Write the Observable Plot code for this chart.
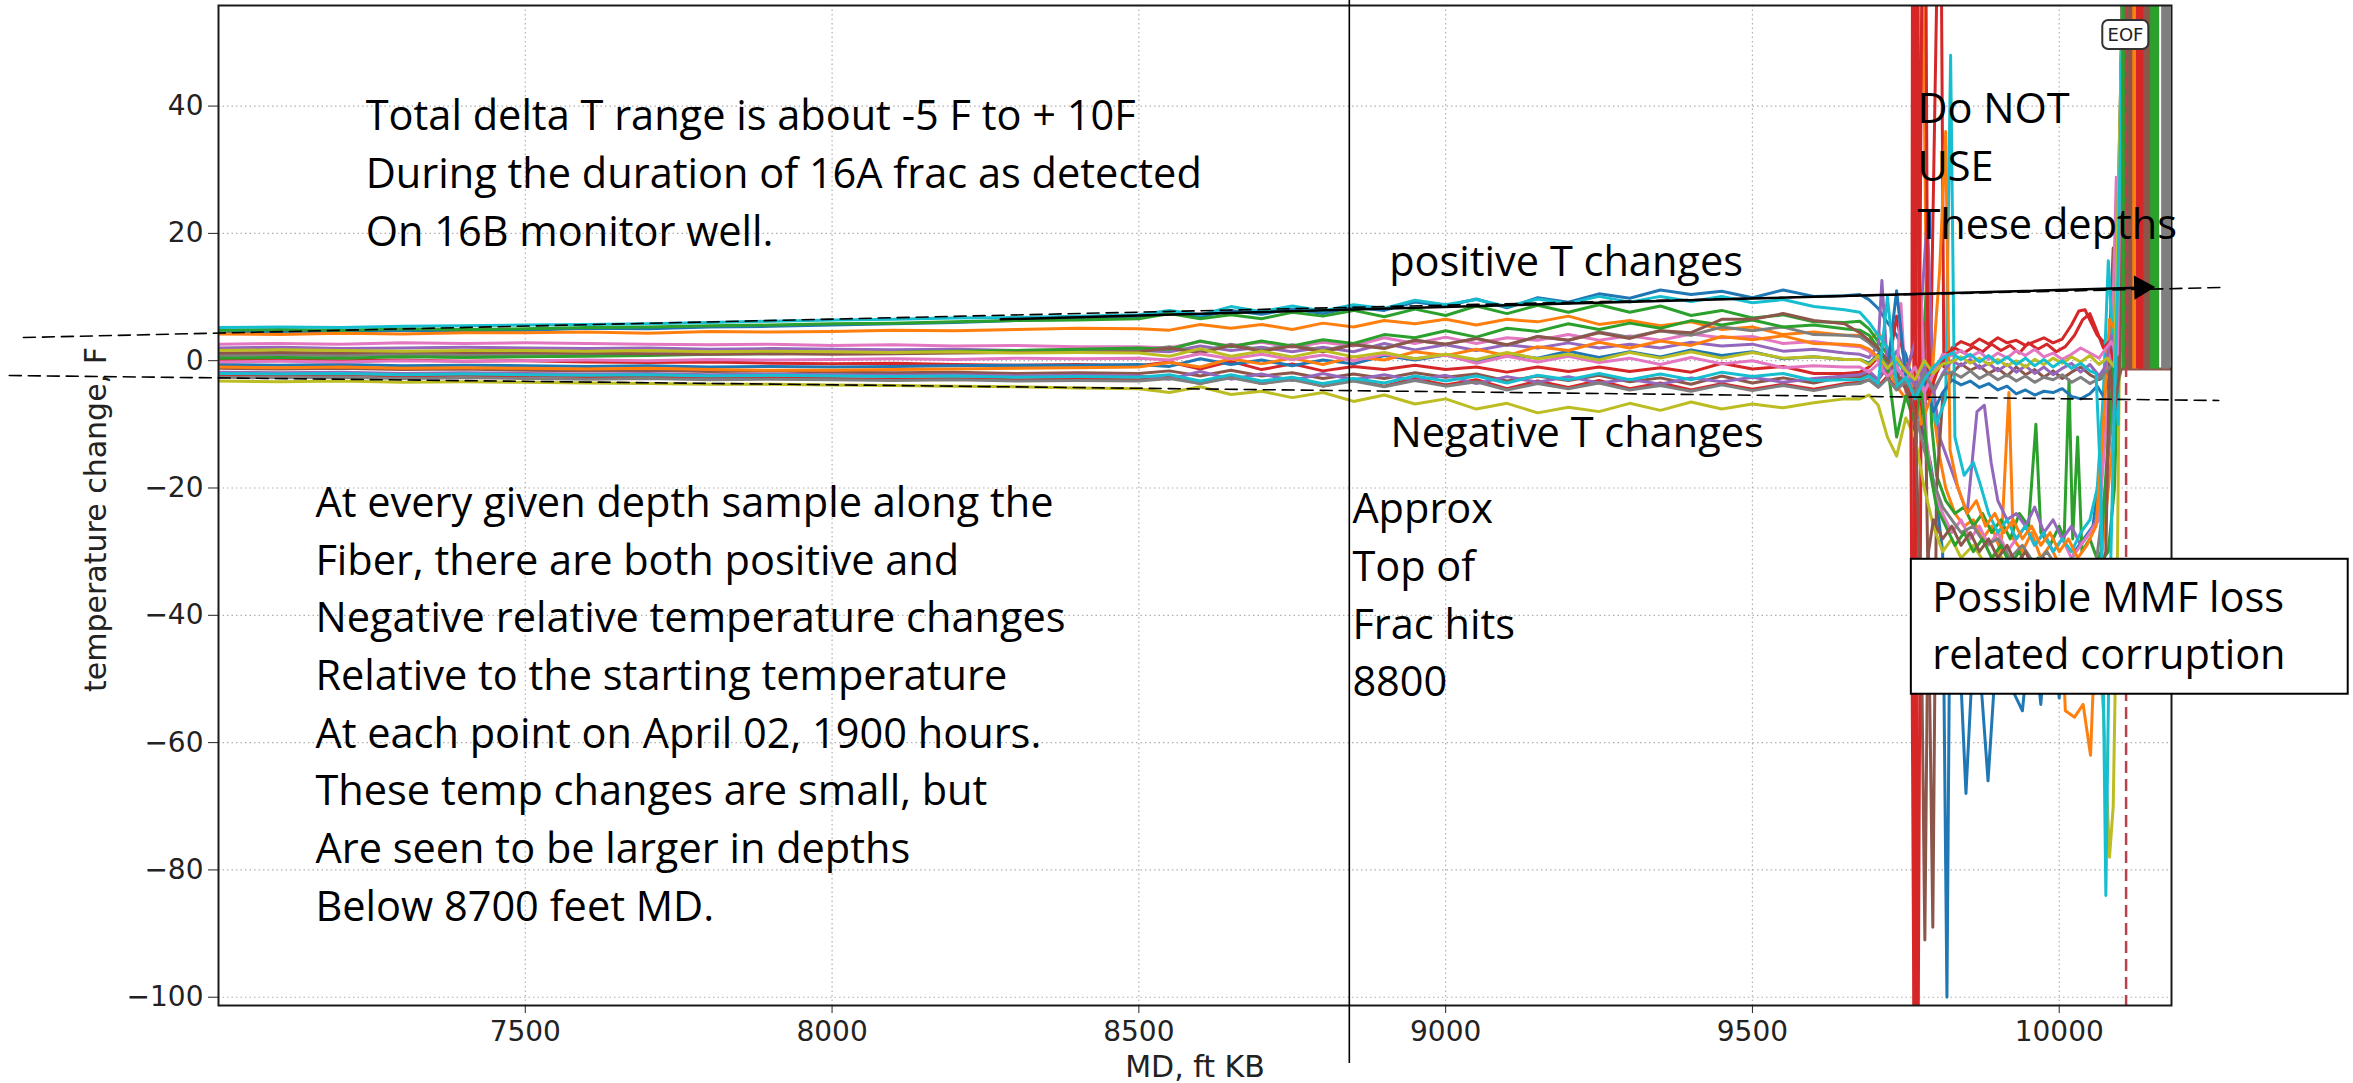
<!DOCTYPE html>
<html><head><meta charset="utf-8">
<script src="https://cdn.jsdelivr.net/npm/d3@7"></script>
<script src="https://cdn.jsdelivr.net/npm/@observablehq/plot@0.6"></script>
<style>
html,body{margin:0;padding:0;background:#fff;}
#chart{width:2353px;height:1083px;overflow:hidden;}
</style></head><body><div id="chart"></div>
<script>
// ---------- data ----------
const xTicks = [7500, 8000, 8500, 9000, 9500, 10000];
const yTicks = [-100, -80, -60, -40, -20, 0, 20, 40];

// measured depth grid (ft KB) for the smooth part of every trace
const md = [7000,7100,7200,7300,7400,7500,7600,7700,7800,7900,8000,8100,8200,8300,8400,8500,
  8550,8600,8650,8700,8750,8800,8850,8900,8950,9000,9050,9100,9150,9200,9250,9300,9350,9400,9450,9500,9550,9600,9650];

const s00 = [4.4,4.6,4.5,4.8,4.7,4.8,5.1,5.0,5.3,5.4,5.6,5.8,6.0,6.3,6.5,6.8, 7.5,6.9,7.9,7.3,8.1,7.4,8.4,7.9,9.2,8.6,9.7,8.3,9.9,9.2,10.5,9.8,11.1,10.4,10.9,9.9,11.1,10.1,10.2];
const s01 = [4.2,4.1,4.3,4.2,4.4,4.4,4.5,4.3,4.6,4.5,4.6,4.8,4.7,4.9,5.1,5.0, 4.8,5.7,5.1,5.7,4.9,5.9,5.3,6.3,5.8,6.5,5.6,6.5,6.1,7.0,5.7,6.3,5.5,6.1,4.9,5.3,4.1,4.5,4.0];
const s02 = [4.8,4.9,4.8,5.0,4.9,5.0,5.2,5.3,5.5,5.6,5.8,5.9,6.1,6.3,6.4,6.6, 7.4,6.6,7.2,6.6,7.6,7.0,7.9,6.9,8.1,7.1,8.6,7.4,8.7,7.6,8.8,7.6,8.6,7.1,7.9,6.7,7.2,6.1,6.0];
const s03 = [0.2,0.1,0.0,0.1,-0.1,0.0,-0.2,-0.3,-0.2,-0.4,-0.5,-0.4,-0.6,-0.7,-0.6,-0.8, -0.2,-1.3,-0.1,-1.4,-0.5,-1.6,-0.9,-1.4,-0.7,-1.4,-1.0,-1.8,-1.0,-1.7,-1.0,-1.7,-1.1,-1.8,-0.4,-1.3,-0.9,-2.0,-2.0];
const s04 = [2.0,2.1,1.9,2.0,2.1,2.0,1.9,2.0,1.8,1.9,1.8,1.7,1.8,1.6,1.7,1.6, 1.4,2.3,1.6,2.1,1.4,2.1,1.4,2.7,1.7,2.5,1.6,2.5,2.0,2.8,2.0,2.6,2.0,2.9,2.3,2.6,1.5,1.8,1.2];
const s05 = [-1.2,-1.3,-1.2,-1.4,-1.3,-1.5,-1.6,-1.5,-1.7,-1.6,-1.8,-1.9,-1.8,-2.0,-1.9,-2.0, -1.6,-2.4,-1.5,-2.4,-1.9,-2.8,-2.1,-2.8,-1.9,-2.6,-2.1,-3.2,-2.4,-3.1,-2.3,-3.3,-2.7,-3.7,-2.4,-3.5,-2.7,-3.5,-2.5];
const s06 = [2.6,2.7,2.6,2.8,2.7,2.8,2.7,2.6,2.5,2.6,2.4,2.5,2.3,2.4,2.2,2.2, 2.0,3.0,2.3,2.9,2.1,2.9,2.3,3.6,2.7,3.7,2.7,3.6,3.2,4.1,3.2,3.9,3.2,4.2,3.6,3.8,2.7,3.0,2.4];
const s07 = [0.8,0.9,0.8,1.0,0.9,1.0,1.1,1.0,1.2,1.1,1.2,1.3,1.4,1.4,1.5,1.6, 2.2,1.4,2.6,1.7,2.5,1.6,2.6,2.0,3.2,2.6,3.5,2.4,3.8,3.2,4.5,3.7,4.7,4.0,5.3,4.7,5.3,4.1,4.0];
const s08 = [-3.2,-3.3,-3.2,-3.4,-3.3,-3.4,-3.5,-3.6,-3.7,-3.7,-3.8,-3.9,-4.0,-4.1,-4.3,-4.4, -5.0,-4.1,-5.3,-4.8,-5.8,-5.0,-6.4,-5.4,-6.8,-6.0,-7.6,-6.7,-8.2,-7.3,-8.0,-6.7,-7.8,-6.5,-7.6,-6.8,-7.4,-6.6,-6.0];
const s09 = [5.2,5.3,5.2,5.4,5.5,5.6,5.7,5.8,6.0,6.2,6.4,6.5,6.7,6.8,7.0,7.2, 7.9,7.2,8.5,7.7,8.6,7.8,8.8,8.2,9.5,8.8,9.6,8.5,9.7,9.0,10.1,9.2,10.1,9.3,10.1,9.1,9.6,8.5,8.0];
const s10 = [-0.6,-0.7,-0.6,-0.8,-0.7,-0.8,-0.9,-0.8,-1.0,-0.9,-1.0,-0.9,-0.8,-0.7,-0.7,-0.6, -0.9,0.3,-0.6,0.1,-0.8,0.1,-0.5,0.8,0.1,0.9,-0.2,1.0,0.4,1.5,0.5,1.4,0.6,1.7,0.8,1.4,0.3,0.6,0.2];
const s11 = [-1.0,-1.1,-1.0,-1.2,-1.1,-1.2,-1.3,-1.2,-1.4,-1.5,-1.5,-1.4,-1.3,-1.2,-1.1,-1.0, -0.3,-1.0,0.3,-0.5,0.4,-0.6,0.6,0.1,1.4,0.8,1.8,0.8,2.2,1.6,2.9,2.0,3.1,2.4,3.8,3.3,3.9,2.7,2.6];
const s12 = [0.4,0.5,0.4,0.6,0.5,0.6,0.7,0.8,1.0,1.1,1.2,1.3,1.5,1.6,1.8,2.0, 1.8,3.1,2.2,3.1,2.3,3.3,2.7,4.1,3.6,4.7,3.7,5.1,4.6,5.8,4.9,5.9,5.1,6.3,5.6,6.4,5.3,5.6,5.0];
const s13 = [-2.2,-2.3,-2.2,-2.4,-2.3,-2.4,-2.5,-2.6,-2.7,-2.7,-2.8,-2.9,-2.8,-3.0,-2.9,-3.0, -2.6,-3.6,-2.4,-3.6,-2.8,-4.0,-3.0,-4.0,-2.8,-3.8,-3.0,-4.4,-3.2,-4.2,-3.1,-4.4,-3.5,-4.6,-3.6,-4.5,-3.7,-4.5,-3.6];
const s14 = [-1.8,-1.9,-1.8,-2.0,-1.9,-2.0,-2.1,-2.0,-2.2,-2.1,-2.2,-2.3,-2.2,-2.4,-2.3,-2.4, -2.9,-1.7,-2.9,-2.1,-3.1,-2.0,-3.0,-2.2,-3.1,-2.3,-3.6,-2.5,-3.4,-2.5,-3.5,-2.9,-3.7,-2.7,-3.3,-2.6,-3.4,-2.8,-2.4];
const s15 = [1.2,1.3,1.2,1.4,1.3,1.3,1.2,1.1,1.0,1.1,1.0,1.1,1.2,1.3,1.3,1.4, 2.0,1.2,2.4,1.5,2.3,1.4,2.5,1.9,3.2,2.6,3.5,2.5,3.8,3.2,4.4,3.5,4.7,4.4,6.5,6.5,7.4,6.3,5.8];
const s16 = [-0.2,-0.1,-0.2,0.0,-0.1,0.0,0.1,0.0,0.2,0.1,0.2,0.3,0.2,0.4,0.3,0.4, 0.1,1.1,0.3,1.0,0.2,0.9,0.0,1.0,0.3,0.9,-0.4,0.7,-0.2,0.7,-0.3,0.4,-0.6,0.5,-0.5,0.0,-1.1,-0.8,-1.0];
const s17 = [-2.6,-2.7,-2.6,-2.8,-2.7,-2.8,-2.9,-2.8,-3.0,-2.9,-3.0,-3.1,-3.0,-3.2,-3.1,-3.2, -2.8,-3.6,-2.7,-3.6,-3.0,-4.0,-3.2,-4.1,-3.1,-4.0,-3.3,-4.6,-3.6,-4.4,-3.5,-4.6,-3.9,-4.8,-3.8,-4.7,-3.9,-4.7,-3.8];
const s18 = [1.6,1.7,1.6,1.5,1.6,1.6,1.5,1.6,1.4,1.5,1.4,1.3,1.4,1.2,1.3,1.2, 0.7,1.9,0.7,1.5,0.6,1.6,0.6,1.3,0.3,1.0,0.2,1.3,0.3,1.0,0.1,1.3,0.4,1.4,0.4,1.3,0.4,0.6,0.2];
const s19 = [-2.0,-2.1,-2.0,-2.2,-2.1,-2.2,-2.3,-2.2,-2.4,-2.3,-2.4,-2.5,-2.4,-2.6,-2.5,-2.6, -2.2,-3.2,-2.2,-3.2,-2.6,-3.6,-2.8,-3.5,-2.4,-3.2,-2.4,-3.5,-2.3,-3.0,-2.0,-3.0,-2.1,-3.0,-1.8,-2.5,-2.0,-3.1,-3.0];

// deeper, noisy part of every trace: [md, dT]
const t00 = [[9675,10.4],[9690,9.6],[9705,8.2],[9720,6.0],[9735,4.0],[9750,1.0],[9760,-3],[9770,-8],[9780,-12],[9790,-16],[9800,-22],[9810,-30],[9817,-100],[9822,-35],[9835,-40],[9848,-68],[9860,-45],[9872,-50],[9884,-66],[9896,-48],[9910,-38],[9925,-52],[9940,-55],[9955,-40],[9970,-54],[9985,-36],[10000,-53],[10012,-34],[10025,-30],[10040,-28],[10055,-26],[10068,-16],[10075,-4],[10085,-2],[10095,3],[10103,60]];
const t01 = [[9675,4.0],[9690,3.2],[9705,4.5],[9720,2.0],[9735,-1.0],[9750,-3.0],[9762,2],[9772,30],[9778,60],[9784,5],[9795,-8],[9805,-15],[9815,-20],[9830,-24],[9845,-26],[9860,-25],[9875,-28],[9890,-26],[9905,-30],[9918,-5],[9925,-28],[9940,-30],[9955,-27],[9970,-31],[9985,-29],[10000,-32],[10010,-55],[10025,-56],[10039,-54],[10051,-62],[10060,-40],[10070,-30],[10080,-20],[10090,-10],[10100,2],[10104,60]];
const t02 = [[9675,6.2],[9690,5.0],[9705,3.0],[9720,1.0],[9735,-2.0],[9750,-4.0],[9765,-6],[9775,-3],[9785,14],[9792,-10],[9800,-18],[9815,-22],[9830,-24],[9845,-23],[9860,-26],[9875,-24],[9890,-27],[9905,-25],[9920,-28],[9935,-24],[9950,-26],[9962,-10],[9970,-27],[9985,-29],[10000,-26],[10008,-28],[10016,-3],[10022,-28],[10030,-12],[10037,-30],[10050,-28],[10065,-32],[10080,-30],[10090,-20],[10098,5],[10102,60]];
const t03 = [[9675,-1.8],[9690,-1.0],[9705,0.5],[9720,-2.0],[9735,7.0],[9750,-1.5],[9760,1.0],[9762,150],[9764,-150],[9766,150],[9768,-150],[9775,-4],[9790,-2],[9806,90],[9812,-1],[9825,2],[9840,3.0],[9855,2.4],[9870,3.4],[9885,2.6],[9900,3.6],[9915,2.8],[9930,3.2],[9945,2.4],[9960,3.0],[9975,3.6],[9990,2.8],[10005,3.4],[10020,5.6],[10032,7.8],[10042,8.0],[10052,6.0],[10062,4.0],[10072,3.0],[10082,1.0],[10092,4.0],[10100,20],[10104,60]];
const t04 = [[9675,1.0],[9690,0.5],[9705,2.5],[9711,12.6],[9720,-1.0],[9735,1.5],[9750,-2.0],[9765,3],[9775,8],[9785,22.5],[9795,-4],[9805,-12],[9820,-16],[9835,-20],[9850,-24],[9866,-8],[9878,-7],[9889,-16],[9900,-22],[9915,-25],[9930,-24],[9945,-26],[9960,-23],[9975,-27],[9990,-25],[10005,-28],[10020,-26],[10035,-29],[10050,-27],[10065,-24],[10075,-10],[10085,-6],[10095,12],[10103,60]];
const t05 = [[9675,-2.6],[9690,-2.0],[9705,-3.0],[9720,-1.0],[9735,-3.5],[9750,-2.0],[9765,-5],[9780,6],[9790,-60],[9794,-89],[9800,-20],[9810,-6],[9825,-2],[9840,-0.5],[9855,-1.5],[9870,-0.8],[9885,-2.0],[9900,-1.2],[9915,-2.4],[9930,-1.0],[9945,-2.2],[9960,-1.4],[9975,-2.6],[9990,-1.6],[10005,-2.8],[10020,-1.8],[10035,-1.0],[10050,-2.2],[10065,-3.0],[10080,-2.0],[10088,17.7],[10095,-4],[10101,-1.3],[10183,-1.3]];
const t06 = [[9675,2.2],[9690,1.5],[9705,0.0],[9720,-1.5],[9735,-3.0],[9742,9.0],[9750,-5.0],[9765,-2],[9775,10],[9783,-12],[9795,-20],[9810,-24],[9825,-27],[9840,-25],[9855,-28],[9870,-26],[9885,-29],[9900,-27],[9915,-30],[9930,-28],[9945,-26],[9960,-29],[9975,-27],[9990,-30],[10005,-28],[10020,-31],[10035,-29],[10050,-27],[10065,-25],[10078,-8],[10087,6],[10093,28.8],[10097,2],[10104,60]];
const t07 = [[9675,3.8],[9690,2.8],[9705,1.5],[9720,0.0],[9735,-2.5],[9750,-4.0],[9765,-8],[9780,-14],[9795,-19],[9810,-23],[9825,-25],[9840,-27],[9860,-26],[9880,-29],[9900,-28],[9920,-31],[9940,-29],[9960,-32],[9980,-30],[10000,-33],[10020,-31],[10040,-34],[10060,-32],[10075,-20],[10090,-5],[10105,60]];
const t08 = [[9675,-6.0],[9690,-5.4],[9705,-7.0],[9720,-12],[9735,-15.0],[9750,-9.0],[9765,-12],[9780,-20],[9795,-26],[9810,-30],[9825,-28],[9840,-31],[9860,-29],[9880,-32],[9900,-30],[9920,-33],[9940,-31],[9960,-34],[9980,-32],[10000,-35],[10020,-33],[10040,-36],[10060,-40],[10072,-55],[10082,-78],[10088,-70],[10095,-30],[10104,60]];
const t09 = [[9675,7.6],[9690,6.0],[9705,4.0],[9720,2.0],[9735,0.0],[9750,-2.0],[9765,-4],[9780,0],[9800,-10],[9815,-6],[9823,48],[9830,-12],[9845,-18],[9860,-16],[9870,-19],[9885,-24],[9900,-27],[9915,-25],[9930,-28],[9945,-26],[9960,-29],[9975,-27],[9990,-30],[10005,-28],[10020,-30],[10035,-27],[10050,-25],[10062,-20],[10072,-5],[10080,15.7],[10088,2],[10096,-10],[10104,60]];
const t10 = [[9675,0.2],[9690,-0.4],[9705,1.0],[9720,-1.5],[9735,11.0],[9750,-2.5],[9765,-6],[9780,-3],[9795,-8],[9810,-5],[9825,-3.0],[9840,-3.8],[9855,-3.2],[9870,-4.2],[9885,-3.6],[9900,-4.6],[9915,-4.0],[9930,-5.2],[9945,-4.6],[9960,-5.4],[9975,-4.8],[9990,-5.0],[10005,-4.4],[10020,-5.6],[10035,-6.0],[10050,-5.2],[10062,-4.0],[10072,-5.6],[10082,-3.0],[10090,-1],[10096,10],[10104,60]];
const t11 = [[9675,2.4],[9690,1.8],[9705,0.5],[9720,-1.0],[9735,-4.0],[9750,-6.0],[9765,-3],[9775,-10],[9790,-6],[9805,14],[9815,36],[9822,-14],[9835,-20],[9850,-24],[9865,-22],[9880,-26],[9895,-24],[9910,-27],[9925,-25],[9940,-28],[9955,-26],[9970,-29],[9985,-27],[10000,-30],[10015,-28],[10030,-31],[10045,-29],[10060,-26],[10072,-10],[10082,6.5],[10090,5],[10098,3],[10104,60]];
const t12 = [[9675,4.8],[9690,4.0],[9705,2.0],[9720,-0.5],[9735,-12.0],[9750,-5.5],[9765,-10],[9775,-4],[9785,-15],[9800,-23],[9815,-26],[9830,-29],[9845,-27],[9860,-30],[9875,-28],[9890,-31],[9905,-29],[9920,-32],[9935,-30],[9950,-33],[9965,-31],[9980,-34],[9995,-32],[10010,-35],[10025,-33],[10040,-36],[10055,-34],[10068,-30],[10080,-12],[10092,3],[10104,60]];
const t13 = [[9675,-3.4],[9690,-3.0],[9705,-4.0],[9720,-2.5],[9735,-4.5],[9750,-3.0],[9758,-5],[9765,-140],[9767,150],[9772,-3],[9780,120],[9786,-6],[9800,-2],[9815,1.0],[9830,2.0],[9845,1.2],[9860,2.2],[9875,1.4],[9890,2.6],[9905,1.6],[9920,2.4],[9935,1.2],[9950,2.8],[9965,1.8],[9980,2.6],[9995,1.4],[10010,2.2],[10025,4.0],[10038,6.4],[10050,7.4],[10060,5.0],[10072,2.0],[10082,3.0],[10092,-2],[10100,6],[10104,60]];
const t14 = [[9675,-2.2],[9690,-1.6],[9705,-3.0],[9720,-0.5],[9735,-2.5],[9750,-1.0],[9765,-4],[9780,-1],[9795,-5],[9810,-2],[9825,0.0],[9840,-0.8],[9855,0.2],[9870,-1.2],[9885,-0.4],[9900,-1.6],[9915,-0.6],[9930,-1.8],[9945,-0.8],[9960,-2.0],[9975,-1.0],[9990,-2.2],[10005,-1.2],[10020,-0.4],[10035,-1.8],[10050,-0.6],[10065,-2.4],[10075,-1.0],[10085,4.0],[10095,-2],[10104,60]];
const t15 = [[9675,4.4],[9690,3.2],[9705,2.0],[9720,0.0],[9735,-2.0],[9750,-4.5],[9765,-8],[9775,-40],[9781,-91],[9787,-30],[9795,-25],[9810,-28],[9825,-26],[9840,-29],[9855,-27],[9870,-30],[9885,-28],[9900,-31],[9915,-29],[9930,-32],[9945,-30],[9960,-33],[9975,-31],[9990,-34],[10005,-32],[10020,-35],[10035,-33],[10050,-36],[10065,-34],[10076,-30],[10082,0],[10090,-8],[10098,-2],[10104,60]];
const t16 = [[9675,-1.0],[9690,-1.8],[9705,-0.5],[9720,-2.5],[9735,-1.0],[9750,-3.0],[9765,-1],[9780,-5],[9795,-2],[9810,1.0],[9825,0.8],[9840,1.6],[9855,0.6],[9870,1.4],[9885,0.2],[9900,1.2],[9915,0.4],[9930,1.6],[9945,0.8],[9960,1.8],[9975,0.6],[9990,1.2],[10005,0.2],[10020,1.0],[10035,2.0],[10050,1.2],[10065,0.4],[10075,1.8],[10085,3.0],[10095,1],[10104,60]];
const t17 = [[9675,-3.6],[9690,-3.0],[9705,-4.2],[9720,-2.8],[9735,-4.6],[9750,-3.2],[9765,-5.0],[9780,-2.0],[9795,-4.5],[9810,-2.2],[9825,-1.8],[9840,-2.6],[9855,-1.6],[9870,-2.8],[9885,-2.0],[9900,-3.0],[9915,-2.2],[9930,-3.2],[9945,-2.4],[9960,-3.4],[9975,-2.6],[9990,-3.0],[10005,-2.2],[10020,-3.4],[10035,-2.6],[10050,-3.6],[10065,-2.8],[10078,-1.6],[10090,0],[10104,60]];
const t18 = [[9675,0.2],[9690,-0.6],[9705,0.8],[9720,-1.2],[9735,0.4],[9750,-1.6],[9765,-3],[9780,0],[9795,-2],[9810,-0.5],[9825,-0.2],[9840,0.6],[9855,-0.4],[9870,0.4],[9885,-0.6],[9900,0.2],[9915,-0.8],[9930,0.0],[9945,-1.0],[9960,0.2],[9975,-0.6],[9990,0.4],[10005,-0.4],[10020,0.6],[10035,-0.2],[10050,0.8],[10065,-0.6],[10078,0.4],[10090,-1.0],[10104,60]];
const t19 = [[9675,-3.0],[9690,-2.4],[9705,-3.6],[9720,10.0],[9735,-4.0],[9750,-2.6],[9765,-6],[9780,-3],[9795,-1],[9810,0.4],[9825,1.2],[9840,0.2],[9855,1.0],[9870,-0.2],[9885,0.8],[9900,-0.4],[9915,0.6],[9930,-0.6],[9945,0.4],[9960,-0.8],[9975,0.2],[9990,-1.0],[10005,0.0],[10020,-1.2],[10035,-0.4],[10050,-1.6],[10060,-2.0],[10068,-20],[10076,-84],[10082,-40],[10090,-6],[10096,14],[10104,60]];

const seriesNames = ["s00","s01","s02","s03","s04","s05","s06","s07","s08","s09","s10","s11","s12","s13","s14","s15","s16","s17","s18","s19"];
const gridValues = [s00,s01,s02,s03,s04,s05,s06,s07,s08,s09,s10,s11,s12,s13,s14,s15,s16,s17,s18,s19];
const tails = [t00,t01,t02,t03,t04,t05,t06,t07,t08,t09,t10,t11,t12,t13,t14,t15,t16,t17,t18,t19];

// off-scale readings past the end of fiber (EOF)
const eofMd = [10106, 10112, 10118, 10124, 10130, 10136, 10142, 10148, 10153, 10158, 10171, 10176];
const eofSeries = ["s02","s05","s05","s01","s03","s03","s05","s05","s02","s02","s07","s07"];
const eofFloor = -1.3;
const eofCeiling = 200;
const eofMark = 10109;

// annotations (data coordinates)
const fracTopMd = 8843;
const fracTopSpan = [56.6, -110.4];
const upperGuide = [[6682, 3.64], [10266, 11.5]];
const lowerGuide = [[6659, -2.33], [10260, -6.25]];
const arrowFrom = [8275, 6.5];
const arrowTo = [10145, 11.5];
const noteTexts = [
  "Total delta T range is about -5 F to + 10F\nDuring the duration of 16A frac as detected\nOn 16B monitor well.",
  "At every given depth sample along the\nFiber, there are both positive and\nNegative relative temperature changes\nRelative to the starting temperature\nAt each point on April 02, 1900 hours.\nThese temp changes are small, but\nAre seen to be larger in depths\nBelow 8700 feet MD.",
  "positive T changes",
  "Negative T changes",
  "Do NOT\nUSE\nThese depths",
  "Approx\nTop of\nFrac hits\n8800",
  "Possible MMF loss\nrelated corruption"
];
const noteMd = [7240, 7158, 8908, 8910, 9769, 8848, 9793];
const noteDT = [42.6, -18.1, 19.8, -7.2, 43.7, -19.1, -33.0];
const mmfBox = {x1: 9759, x2: 10471, y1: -31.2, y2: -52.4};
const eofBox = {x1: 10071, x2: 10146, y1: 53.44, y2: 48.89, md: 10108, dT: 51.17, text: "EOF"};

// ---------- build table ----------
const rows = [];
seriesNames.forEach((name, i) => {
  md.forEach((x, j) => rows.push({name, md: x, dT: gridValues[i][j]}));
  tails[i].forEach(([x, y]) => rows.push({name, md: x, dT: y}));
});
const eofCols = eofMd.map((x, i) => ({md: x, name: eofSeries[i]}));
const notes = noteTexts.map((t, i) => ({text: t, md: noteMd[i], dT: noteDT[i]}));
const guideRows = [
  ...upperGuide.map(([x, y]) => ({g: "up", md: x, dT: y})),
  ...lowerGuide.map(([x, y]) => ({g: "low", md: x, dT: y}))
];

const chart = Plot.plot({
  width: 2353,
  height: 1083,
  marginLeft: 218,
  marginRight: 182,
  marginTop: 5,
  marginBottom: 78,
  style: {background: "#fff", fontFamily: "DejaVu Sans", fontSize: "28px", color: "#222", overflow: "visible"},
  x: {domain: [7000, 10183], ticks: xTicks, tickFormat: "d", tickSize: 8, tickPadding: 8, label: null},
  y: {domain: [-101.3, 55.8], ticks: yTicks, tickFormat: "d", tickSize: 10, tickPadding: 5, label: null},
  color: {type: "ordinal", domain: seriesNames, range: [...d3.schemeCategory10, ...d3.schemeCategory10]},
  marks: [
    Plot.gridX(xTicks, {stroke: "#b0b0b0", strokeOpacity: 1, strokeDasharray: "1.5,3", strokeWidth: 1.2}),
    Plot.gridY(yTicks, {stroke: "#b0b0b0", strokeOpacity: 1, strokeDasharray: "1.5,3", strokeWidth: 1.2}),
    Plot.line(rows, {x: "md", y: "dT", z: "name", stroke: "name", strokeWidth: 3, clip: true}),
    Plot.ruleX(eofCols, {x: "md", y1: () => eofFloor, y2: () => eofCeiling, stroke: "name", strokeWidth: 6, clip: true}),
    Plot.ruleX([eofMark], {stroke: "#b8434f", strokeWidth: 2.5, strokeDasharray: "12,6"}),
    Plot.frame({stroke: "#1a1a1a", strokeWidth: 2}),
    Plot.line(guideRows, {x: "md", y: "dT", z: "g", stroke: "black", strokeWidth: 1.6, strokeDasharray: "12,7"}),
    Plot.line([arrowFrom, arrowTo], {x: d => d[0], y: d => d[1], stroke: "black", strokeWidth: 2.5}),
    Plot.dot([arrowTo], {x: d => d[0], y: d => d[1], symbol: "triangle", r: 9, fill: "black", stroke: null, rotate: 88.5, dx: -7}),
    Plot.ruleX([fracTopMd], {y1: () => fracTopSpan[0], y2: () => fracTopSpan[1], stroke: "black", strokeWidth: 1.6}),
    Plot.rect([mmfBox], {x1: "x1", x2: "x2", y1: "y1", y2: "y2", fill: "white", stroke: "black", strokeWidth: 2}),
    Plot.text(notes, {x: "md", y: "dT", text: "text", textAnchor: "start", lineAnchor: "top", fontSize: 41.5, lineHeight: 1.390, fontFamily: "Open Sans", fill: "black"}),
    Plot.rect([eofBox], {x1: "x1", x2: "x2", y1: "y1", y2: "y2", fill: "white", stroke: "#333", strokeWidth: 2, rx: 6}),
    Plot.text([eofBox], {x: "md", y: "dT", text: "text", fontSize: 18, fontFamily: "DejaVu Sans", fill: "#222"}),
    Plot.text(["MD, ft KB"], {frameAnchor: "bottom", dy: 50, lineAnchor: "top", fontSize: 30, fontFamily: "DejaVu Sans", fill: "#222"}),
    Plot.text(["temperature change, F"], {frameAnchor: "left", textAnchor: "middle", dx: -122, dy: 14, rotate: -90, fontSize: 30, fontFamily: "DejaVu Sans", fill: "#222"})
  ]
});
document.getElementById("chart").appendChild(chart);
</script>
</body></html>
